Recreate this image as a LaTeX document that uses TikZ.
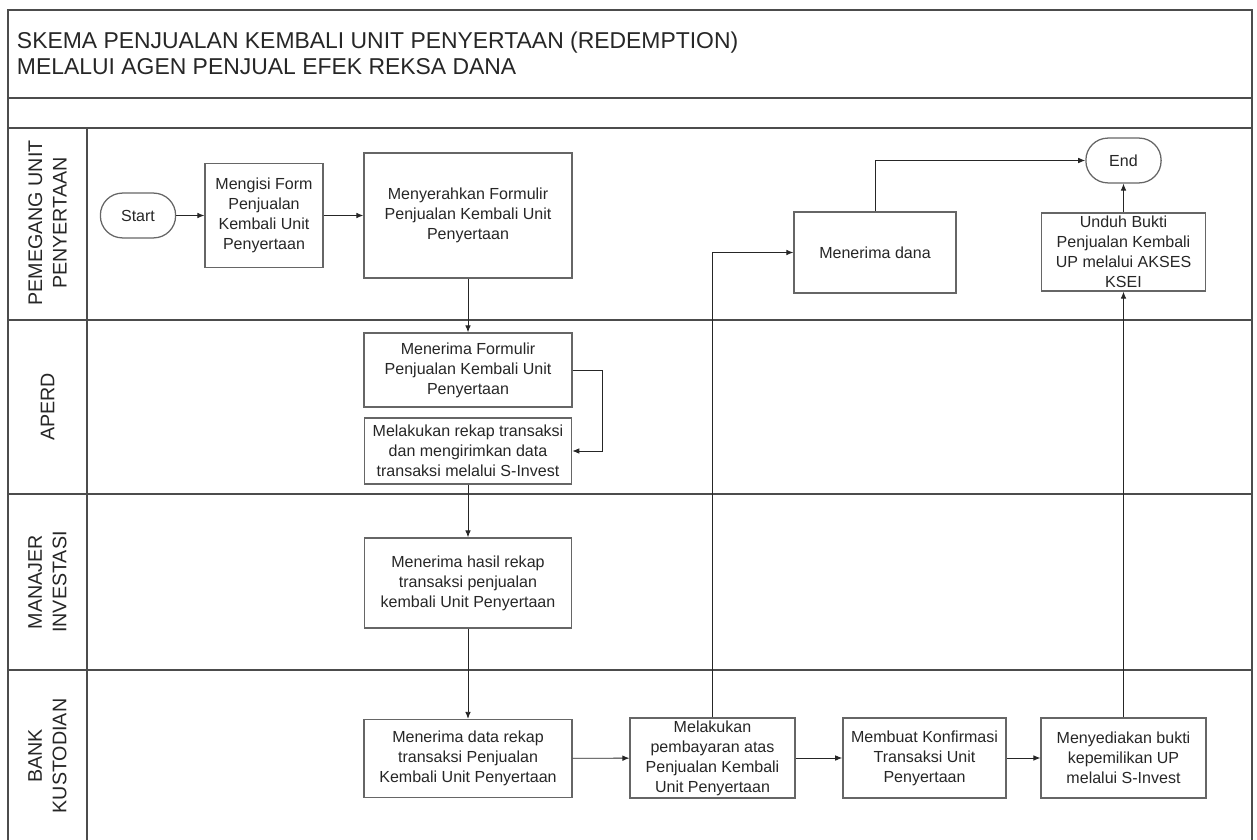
\documentclass[tikz,border=0pt]{standalone}
\usepackage{fontspec}
\setmainfont{Liberation Sans}
\usetikzlibrary{arrows.meta}
\begin{document}
\begin{tikzpicture}
[x=0.025cm,y=-0.025cm,
lane/.style={draw=black!70,line width=1.3pt},
task/.style={draw=black!60,line width=0.9pt,align=center,inner sep=1pt,text=black!85,font=\fontsize{11.4}{14.2}\selectfont},
terminal/.style={task,rounded corners=0.55cm,minimum width=1.88cm,minimum height=1.12cm},
lanename/.style={rotate=90,align=center,text=black!85,font=\fontsize{14}{17.5}\selectfont},
flow/.style={-{Latex[length=5pt,width=4pt]},draw=black!85,line width=0.65pt}]
\useasboundingbox (0,0) rectangle (1257,840);

\draw[lane] (8,845) -- (8,10) -- (1252,10) -- (1252,845);
\draw[lane] (8,98) -- (1252,98);
\draw[lane] (8,128) -- (1252,128);
\draw[lane] (8,320) -- (1252,320);
\draw[lane] (8,494) -- (1252,494);
\draw[lane] (8,670) -- (1252,670);
\draw[lane] (87,128) -- (87,845);

\node[anchor=west,align=left,text=black!85,font=\fontsize{16.3}{18.4}\selectfont] (judul) at (12,53)
  {SKEMA PENJUALAN KEMBALI UNIT PENYERTAAN (REDEMPTION)\\MELALUI AGEN PENJUAL EFEK REKSA DANA};

\node[lanename] (pemegang) at (47.5,223) {PEMEGANG UNIT\\PENYERTAAN};
\node[lanename] (aperd) at (47.5,407) {APERD};
\node[lanename] (mi) at (47.5,582) {MANAJER\\INVESTASI};
\node[lanename] (bk) at (47.5,756) {BANK\\KUSTODIAN};

\node[terminal] (start) at (138,215.5) {Start};
\node[task,minimum width=2.95cm,minimum height=2.6cm] (isi) at (264,215.5) {Mengisi Form\\Penjualan\\Kembali Unit\\Penyertaan};
\node[task,minimum width=5.2cm,minimum height=3.12cm] (serah) at (468,215.5) {Menyerahkan Formulir\\Penjualan Kembali Unit\\Penyertaan};
\node[task,minimum width=4.05cm,minimum height=2.02cm] (dana) at (875,252.5) {Menerima dana};
\node[terminal] (end) at (1123.5,160.5) {End};
\node[task,minimum width=4.1cm,minimum height=1.95cm] (unduh) at (1123.5,252) {Unduh Bukti\\Penjualan Kembali\\UP melalui AKSES\\KSEI};

\node[task,minimum width=5.2cm,minimum height=1.85cm] (terimaform) at (468,370) {Menerima Formulir\\Penjualan Kembali Unit\\Penyertaan};
\node[task,minimum width=5.18cm,minimum height=1.65cm] (rekap) at (468,451) {Melakukan rekap transaksi\\dan mengirimkan data\\transaksi melalui S-Invest};

\node[task,minimum width=5.18cm,minimum height=2.25cm] (hasil) at (468,583) {Menerima hasil rekap\\transaksi penjualan\\kembali Unit Penyertaan};

\node[task,minimum width=5.2cm,minimum height=1.95cm] (data) at (468,758.5) {Menerima data rekap\\transaksi Penjualan\\Kembali Unit Penyertaan};
\node[task,minimum width=4.12cm,minimum height=2cm] (bayar) at (712.5,758) {Melakukan\\pembayaran atas\\Penjualan Kembali\\Unit Penyertaan};
\node[task,minimum width=4.08cm,minimum height=2cm] (konfirmasi) at (924.5,758) {Membuat Konfirmasi\\Transaksi Unit\\Penyertaan};
\node[task,minimum width=4.12cm,minimum height=2cm] (bukti) at (1123.5,758) {Menyediakan bukti\\kepemilikan UP\\melalui S-Invest};

\draw[flow] (start) -- (isi);
\draw[flow] (isi) -- (serah);
\draw[flow] (serah) -- (terimaform);
\draw[flow] (terimaform.east) -- ++(30,0) |- (rekap.east);
\draw[flow] (rekap) -- (hasil);
\draw[flow] (hasil) -- (data);
\draw[flow] (data) -- (bayar);
\draw[flow] (bayar) |- (dana);
\draw[flow] (dana) |- (end);
\draw[flow] (bayar) -- (konfirmasi);
\draw[flow] (konfirmasi) -- (bukti);
\draw[flow] (bukti) -- (unduh);
\draw[flow] (unduh) -- (end);
\end{tikzpicture}
\end{document}
